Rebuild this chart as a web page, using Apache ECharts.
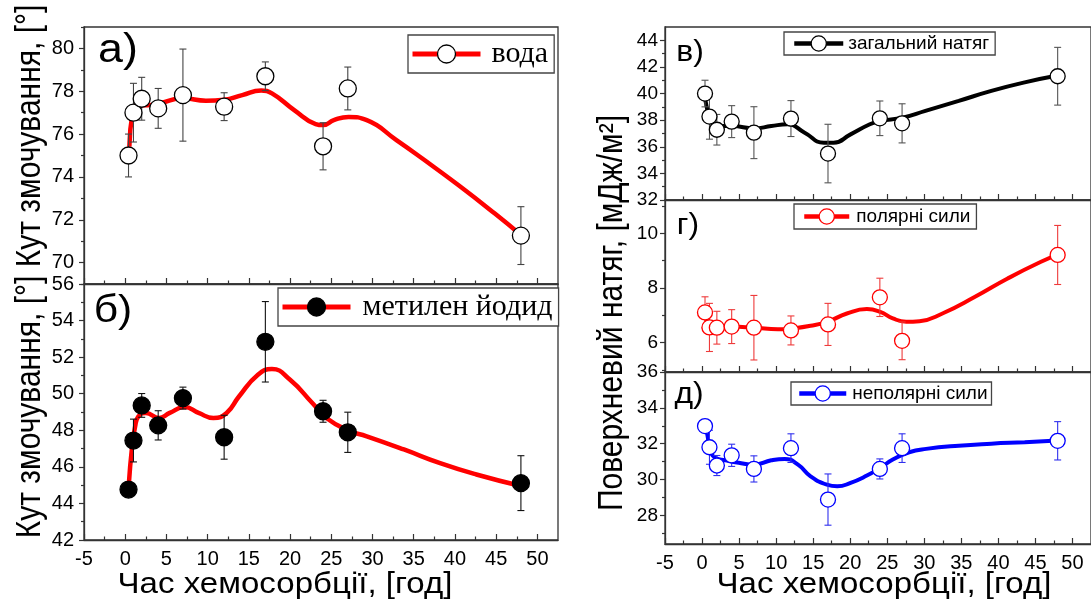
<!DOCTYPE html>
<html>
<head>
<meta charset="utf-8">
<title>chemisorption</title>
<script src="https://cdn.jsdelivr.net/npm/echarts@6/dist/echarts.min.js"></script>
<style>
  html, body { margin: 0; padding: 0; background: #fff; }
  #chart { width: 1091px; height: 603px; }
</style>
</head>
<body>
<div id="chart"></div>
<script>
// час хемосорбції, год
var hours = [0.4, 1, 2, 4, 7, 12, 17, 24, 27, 48];

// а) вода
var waterAngle = [75.0, 77.0, 77.65, 77.2, 77.82, 77.28, 78.7, 75.43, 78.13, 71.26];
var waterErr = [1.0, 1.37, 1.0, 0.93, 2.15, 0.65, 0.67, 1.1, 1.0, 1.35];
var waterFit = [[0.5, 75.41], [0.9, 77.0], [1.4, 77.35], [2.7, 77.35], [4.1, 77.43], [7.0, 77.67], [9.8, 77.56],
  [12.0, 77.6], [14.2, 77.82], [16.5, 78.03], [17.8, 77.9], [20.5, 77.12], [23.1, 76.47], [24.0, 76.42],
  [25.3, 76.65], [27.1, 76.8], [29.3, 76.65], [32.9, 75.72], [36.0, 74.87], [40.4, 73.62], [44.8, 72.3], [48, 71.29]];

// б) метилен йодид
var iodideAngle = [44.76, 47.44, 49.36, 48.27, 49.76, 47.62, 52.84, 49.04, 47.89, 45.11];
var iodideErr = [0.3, 1.17, 0.65, 0.8, 0.6, 1.2, 2.2, 0.6, 1.1, 1.5];
var iodideFit = [[0.45, 45.13], [0.8, 46.95], [1.2, 48.2], [1.6, 48.76], [2.5, 48.95], [4.1, 48.67], [5.4, 48.95],
  [7.2, 49.27], [8.9, 48.95], [10.7, 48.67], [12.3, 48.95], [13.8, 49.85], [16.1, 51.04], [17.8, 51.35],
  [20.0, 50.76], [22.7, 49.49], [24.4, 48.67], [27.1, 47.98], [29.3, 47.67], [33.8, 46.95], [38.2, 46.2],
  [42.6, 45.58], [48, 44.95]];

// в) загальний натяг
var totalTension = [40.0, 38.27, 37.28, 37.89, 37.06, 38.12, 35.49, 38.14, 37.76, 41.3];
var totalErr = [1.0, 1.7, 1.15, 1.2, 1.95, 1.35, 2.2, 1.3, 1.47, 2.17];
var totalFit = [[0.3, 40.0], [0.65, 38.95], [1.15, 37.94], [2.25, 37.56], [4.05, 37.56], [7.05, 37.38],
  [9.35, 37.56], [11.55, 37.69], [13.85, 37.06], [16.45, 36.3], [17.75, 36.3], [20.05, 36.93], [22.65, 37.69],
  [24.05, 37.94], [27.05, 38.19], [30.15, 38.7], [34.65, 39.45], [39.05, 40.2], [43.55, 40.84], [48, 41.35]];

// г) полярні сили
var polarTension = [7.11, 6.56, 6.55, 6.59, 6.55, 6.45, 6.67, 7.66, 6.07, 9.21];
var polarErr = [0.57, 0.88, 0.6, 0.62, 1.18, 0.53, 0.77, 0.7, 0.69, 1.08];
var polarFit = [[0.4, 7.0], [0.9, 6.7], [1.9, 6.59], [3.95, 6.59], [7.05, 6.55], [10.25, 6.49], [12.05, 6.52],
  [14.65, 6.62], [16.95, 6.77], [19.55, 7.07], [22.25, 7.23], [24.05, 7.13], [25.75, 6.89], [27.55, 6.77],
  [29.35, 6.79], [32.45, 7.07], [36.85, 7.68], [41.25, 8.35], [45.75, 8.96], [48, 9.21]];

// д) неполярні сили
var dispTension = [32.98, 31.8, 30.78, 31.35, 30.59, 31.75, 28.88, 30.59, 31.75, 32.16];
var dispErr = [0.35, 0.95, 0.56, 0.62, 0.73, 0.8, 1.43, 0.56, 0.8, 1.07];
var dispFit = [[0.4, 33.25], [0.75, 32.42], [1.15, 31.58], [1.85, 31.2], [3.15, 31.07], [4.95, 30.93],
  [7.05, 30.83], [9.35, 31.07], [11.15, 31.15], [12.95, 30.83], [14.65, 30.18], [16.85, 29.71], [18.25, 29.62],
  [20.05, 29.81], [22.25, 30.22], [24.05, 30.65], [25.75, 31.11], [27.95, 31.52], [30.25, 31.71], [34.65, 31.89],
  [39.05, 32.0], [43.55, 32.08], [48, 32.17]];

// ticks
var xMajor = [-5, 0, 5, 10, 15, 20, 25, 30, 35, 40, 45, 50];
var xMinor = [-2.5, 2.5, 7.5, 12.5, 17.5, 22.5, 27.5, 32.5, 37.5, 42.5, 47.5];
var yMajorA = [70, 72, 74, 76, 78, 80];
var yMinorA = [69, 71, 73, 75, 77, 79, 81];
var yMajorB = [42, 44, 46, 48, 50, 52, 54, 56];
var yMinorB = [43, 45, 47, 49, 51, 53, 55];
var yMajorV = [32, 34, 36, 38, 40, 42, 44];
var yMinorV = [33, 35, 37, 39, 41, 43];
var yMajorG = [6, 8, 10];
var yMinorG = [5, 7, 9, 11];
var yMajorD = [28, 30, 32, 34, 36];
var yMinorD = [27, 29, 31, 33, 35];

var SANS = '"Liberation Sans", Arial, sans-serif';
var SERIF = '"Liberation Serif", "Times New Roman", serif';

var panels = [
  { name: 'вода', rect: [84, 27, 474, 257], y: [69, 81], major: yMajorA, minor: yMinorA, lab: 20, labMargin: 10,
    xLabels: false, values: waterAngle, err: waterErr, fit: waterFit, curve: '#ff0000', curveW: 4.5,
    fill: '#ffffff', edge: '#000000', bar: '#444444', size: 17 },
  { name: 'метилен йодид', rect: [84, 284, 474, 256], y: [42, 56], major: yMajorB, minor: yMinorB, lab: 20, labMargin: 10,
    xLabels: true, values: iodideAngle, err: iodideErr, fit: iodideFit, curve: '#ff0000', curveW: 4.5,
    fill: '#000000', edge: '#000000', bar: '#111111', size: 17 },
  { name: 'загальний натяг', rect: [665, 27, 434, 173], y: [32, 45], major: yMajorV, minor: yMinorV, lab: 19, labMargin: 7,
    xLabels: false, values: totalTension, err: totalErr, fit: totalFit, curve: '#000000', curveW: 4,
    fill: '#ffffff', edge: '#000000', bar: '#555555', size: 15 },
  { name: 'полярні сили', rect: [665, 200, 434, 172], y: [4.93, 11.22], major: yMajorG, minor: yMinorG, lab: 19, labMargin: 7,
    xLabels: false, values: polarTension, err: polarErr, fit: polarFit, curve: '#ff0000', curveW: 4,
    fill: '#ffffff', edge: '#ff0000', bar: '#ee3b3b', size: 15 },
  { name: 'неполярні сили', rect: [665, 372, 434, 172], y: [26.4, 36], major: yMajorD, minor: yMinorD, lab: 19, labMargin: 7,
    xLabels: true, values: dispTension, err: dispErr, fit: dispFit, curve: '#0000ff', curveW: 4,
    fill: '#ffffff', edge: '#0000ff', bar: '#3030ee', size: 15 }
];

// legend boxes: [left, top, font, fontSize, itemWidth, itemHeight, padding, textGap]
var legendBoxes = [
  [408, 35, SERIF, 30, 68, 22.5, [4, 6, 4, 2], 6],
  [278, 288, SERIF, 30, 68, 22.5, [4, 6, 4, 2], 7],
  [784, 32, SANS, 19, 49, 19, [2, 6, 2, 8], 0],
  [794, 204, SANS, 19, 45, 19, [3, 6, 3, 8], 2],
  [791, 382, SANS, 19, 47, 19, [2, 4, 2, 6], 1]
];

function errorRenderer(color) {
  return function (params, api) {
    var x = api.value(0), y = api.value(1), e = api.value(2);
    var hi = api.coord([x, y + e]);
    var lo = api.coord([x, y - e]);
    var st = { stroke: color, lineWidth: 1.1 };
    return {
      type: 'group',
      children: [
        { type: 'line', shape: { x1: hi[0], y1: hi[1], x2: lo[0], y2: lo[1] }, style: st },
        { type: 'line', shape: { x1: hi[0] - 3.5, y1: hi[1], x2: hi[0] + 3.5, y2: hi[1] }, style: st },
        { type: 'line', shape: { x1: lo[0] - 3.5, y1: lo[1], x2: lo[0] + 3.5, y2: lo[1] }, style: st }
      ]
    };
  };
}

var grids = [], xAxes = [], yAxes = [], series = [], legends = [];

panels.forEach(function (p, i) {
  grids.push({ left: p.rect[0], top: p.rect[1], width: p.rect[2], height: p.rect[3],
    show: true, borderColor: '#333', borderWidth: 1.3, containLabel: false });

  // main x axis + minor tick overlay
  xAxes.push({ type: 'value', gridIndex: i, min: -5, max: 52.5, position: 'bottom',
    axisLine: { onZero: false, lineStyle: { color: '#333', width: 1.3 } },
    axisTick: { inside: true, length: 6, customValues: xMajor, lineStyle: { color: '#333', width: 1.2 } },
    axisLabel: { show: p.xLabels, customValues: xMajor, margin: 9, color: '#000', fontSize: 20, fontFamily: SANS },
    splitLine: { show: false } });
  xAxes.push({ type: 'value', gridIndex: i, min: -5, max: 52.5, position: 'bottom',
    axisLine: { show: false, onZero: false },
    axisTick: { inside: true, length: 3.5, customValues: xMinor, lineStyle: { color: '#333', width: 1.2 } },
    axisLabel: { show: false }, splitLine: { show: false } });

  yAxes.push({ type: 'value', gridIndex: i, min: p.y[0], max: p.y[1], position: 'left',
    axisLine: { onZero: false, lineStyle: { color: '#333', width: 1.3 } },
    axisTick: { inside: false, length: 5, customValues: p.major, lineStyle: { color: '#333', width: 1.2 } },
    axisLabel: { customValues: p.major, margin: p.labMargin, color: '#000', fontSize: p.lab, fontFamily: SANS },
    splitLine: { show: false } });
  yAxes.push({ type: 'value', gridIndex: i, min: p.y[0], max: p.y[1], position: 'left',
    axisLine: { show: false, onZero: false },
    axisTick: { inside: false, length: 3, customValues: p.minor, lineStyle: { color: '#333', width: 1.2 } },
    axisLabel: { show: false }, splitLine: { show: false } });

  var ax = 2 * i;
  series.push({ type: 'line', name: p.name, xAxisIndex: ax, yAxisIndex: ax, data: p.fit,
    smooth: 0.5, symbol: 'circle', showSymbol: false, silent: true, z: 2,
    lineStyle: { color: p.curve, width: p.curveW }, itemStyle: { color: p.fill, borderColor: p.edge } });

  series.push({ type: 'custom', xAxisIndex: ax, yAxisIndex: ax, silent: true, z: 3,
    data: hours.map(function (h, k) { return [h, p.values[k], p.err[k]]; }),
    encode: { x: 0, y: 1 }, renderItem: errorRenderer(p.bar) });

  series.push({ type: 'scatter', xAxisIndex: ax, yAxisIndex: ax, silent: true, z: 4,
    data: hours.map(function (h, k) { return [h, p.values[k]]; }),
    symbol: 'circle', symbolSize: p.size,
    itemStyle: { color: p.fill, borderColor: p.edge, borderWidth: 1.3, opacity: 1 } });

  var lb = legendBoxes[i];
  legends.push({ left: lb[0], top: lb[1], orient: 'horizontal', selectedMode: false,
    itemWidth: lb[4], itemHeight: lb[5], padding: lb[6],
    borderColor: '#444', borderWidth: 1.3, backgroundColor: '#fff',
    textStyle: { fontFamily: lb[2], fontSize: lb[3], color: '#000', padding: [0, 0, 0, lb[7]] },
    data: [{ name: p.name,
      itemStyle: { color: p.fill, borderColor: p.edge, borderWidth: 1.3 },
      lineStyle: { color: p.curve, width: p.curveW + 0.5 } }] });
});

// the source figure is a bit stretched sideways, so the text glyphs get a scale too
function label(text, x, y, size, rot, sx, sy) {
  return { type: 'text', x: x, y: y, rotation: rot || 0, scaleX: sx || 1, scaleY: sy || 1, silent: true,
    style: { text: text, font: size + 'px ' + SANS, fill: '#000', align: 'center', verticalAlign: 'middle' } };
}

var chart = echarts.init(document.getElementById('chart'), null, { renderer: 'canvas' });
chart.setOption({
  animation: false,
  backgroundColor: '#fff',
  grid: grids,
  xAxis: xAxes,
  yAxis: yAxes,
  legend: legends,
  series: series,
  graphic: [
    label('а)', 118, 51, 40, 0, 1.12, 1),
    label('б)', 113, 312, 38, 0, 1.12, 1),
    label('в)', 690, 53, 29, 0, 1.1, 1),
    label('г)', 688, 226, 29, 0, 1.1, 1),
    label('д)', 689, 395, 29, 0, 1.1, 1),
    label('Кут змочування, [°]', 30, 136, 30, Math.PI / 2, 1, 1.15),
    label('Кут змочування, [°]', 30, 407, 30, Math.PI / 2, 1, 1.15),
    label('Поверхневий натяг, [мДж/м²]', 612, 313, 30, Math.PI / 2, 1, 1.15),
    label('Час хемосорбції, [год]', 285, 585, 29, 0, 1.14, 1),
    label('Час хемосорбції, [год]', 884, 585, 29, 0, 1.14, 1)
  ]
});
</script>
</body>
</html>
